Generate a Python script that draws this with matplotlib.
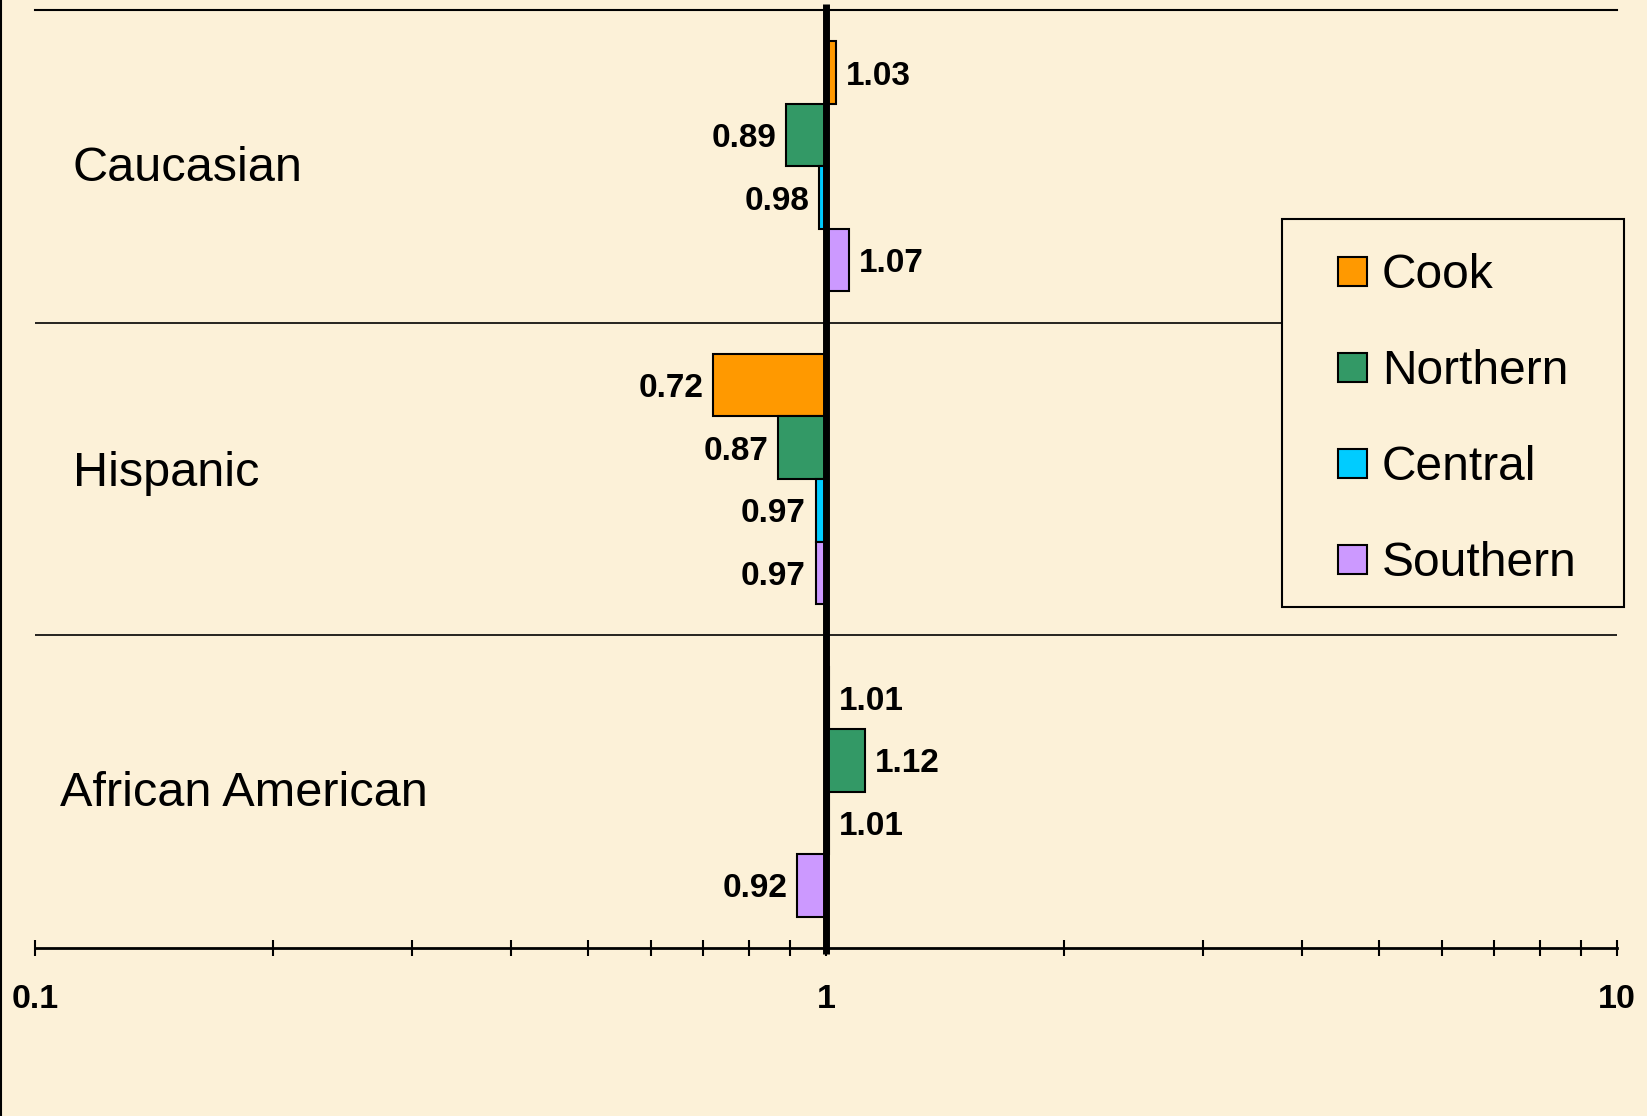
import numpy as np
import matplotlib.pyplot as plt
from matplotlib.patches import Rectangle
from matplotlib.lines import Line2D
from matplotlib.ticker import LogLocator, NullFormatter, FixedFormatter, FixedLocator

plt.rcParams['font.family'] = ['Liberation Sans', 'DejaVu Sans']

# data
categories = ['Caucasian', 'Hispanic', 'African American']
regions = ['Cook', 'Northern', 'Central', 'Southern']
cook = [1.03, 0.72, 1.01]
northern = [0.89, 0.87, 1.12]
central = [0.98, 0.97, 1.01]
southern = [1.07, 0.97, 0.92]
x_ticks = [0.1, 1, 10]
x_tick_labels = ['0.1', '1', '10']

colors = ['#FF9900', '#339966', '#00CCFF', '#CC99FF']
bg = '#FCF1D8'

W, H = 1647, 1116
fig = plt.figure(figsize=(W / 100, H / 100), dpi=100, facecolor=bg)


def fx(px):
    return px / W


def fy(py):
    return 1 - py / H


ax = fig.add_axes([fx(35), fy(948), fx(1617) - fx(35), fy(10) - fy(948)])
ax.set_facecolor(bg)
ax.set_xscale('log')
ax.set_xlim(0.1, 10)
ax.set_ylim(2.5, -0.5)

series = [cook, northern, central, southern]
bar_h = 0.2
y = np.arange(len(categories))
for k, (name, vals) in enumerate(zip(regions, series)):
    offs = (k - 1.5) * bar_h
    vals = np.array(vals)
    ax.barh(y + offs, vals - 1, left=1, height=bar_h, color=colors[k],
            edgecolor='black', linewidth=1.5, zorder=3, label=name)
    for yy, v in zip(y + offs, vals):
        if v >= 1:
            ax.annotate(f'{v:.2f}', (v, yy), xytext=(7, 0), textcoords='offset points',
                        ha='left', va='center_baseline', fontsize=24, fontweight='bold')
        else:
            ax.annotate(f'{v:.2f}', (v, yy), xytext=(-7, 0), textcoords='offset points',
                        ha='right', va='center_baseline', fontsize=24, fontweight='bold')

# separators between groups
for sep in [0.5, 1.5]:
    ax.axhline(sep, color='black', linewidth=1.2, zorder=1)

# thick reference line at 1
ax.plot([1, 1], [-0.52, 2.52], color='black', linewidth=5, zorder=5, clip_on=False,
        solid_capstyle='butt')

# group labels
label_x = [0.024, 0.024, 0.016]
label_dy = [-0.01, -0.035, -0.01]
for i, cat in enumerate(categories):
    ax.text(label_x[i], i + label_dy[i], cat, transform=ax.get_yaxis_transform(),
            ha='left', va='center_baseline', fontsize=35)

for s in ['left', 'right']:
    ax.spines[s].set_visible(False)
ax.spines['top'].set_linewidth(1.5)
ax.spines['bottom'].set_linewidth(2)
ax.set_yticks([])
ax.xaxis.set_major_locator(FixedLocator(x_ticks))
ax.xaxis.set_major_formatter(FixedFormatter(x_tick_labels))
ax.xaxis.set_minor_locator(LogLocator(base=10, subs=np.arange(2, 10)))
ax.xaxis.set_minor_formatter(NullFormatter())
ax.tick_params(axis='x', which='both', direction='inout', length=12, width=1.5, pad=20)
for lab in ax.get_xticklabels():
    lab.set_fontsize(24.5)
    lab.set_fontweight('bold')

# legend box
fig.add_artist(Rectangle((fx(1282), fy(607)), fx(1624) - fx(1282), fy(219) - fy(607),
                         transform=fig.transFigure, facecolor=bg, edgecolor='black',
                         linewidth=1.5, zorder=10))
for k, name in enumerate(regions):
    cy = 272 + 96 * k
    fig.add_artist(Rectangle((fx(1338), fy(cy + 14)), fx(29), 29 / H,
                             transform=fig.transFigure, facecolor=colors[k],
                             edgecolor='black', linewidth=1.5, zorder=11))
    fig.text(fx(1382), fy(cy + 16), name, fontsize=34.5, ha='left', va='baseline', zorder=11)

# left border
fig.add_artist(Line2D([fx(1), fx(1)], [0, 1], transform=fig.transFigure, color='black',
                      linewidth=1.5))

fig.savefig('out.png', dpi=100, facecolor=bg)
